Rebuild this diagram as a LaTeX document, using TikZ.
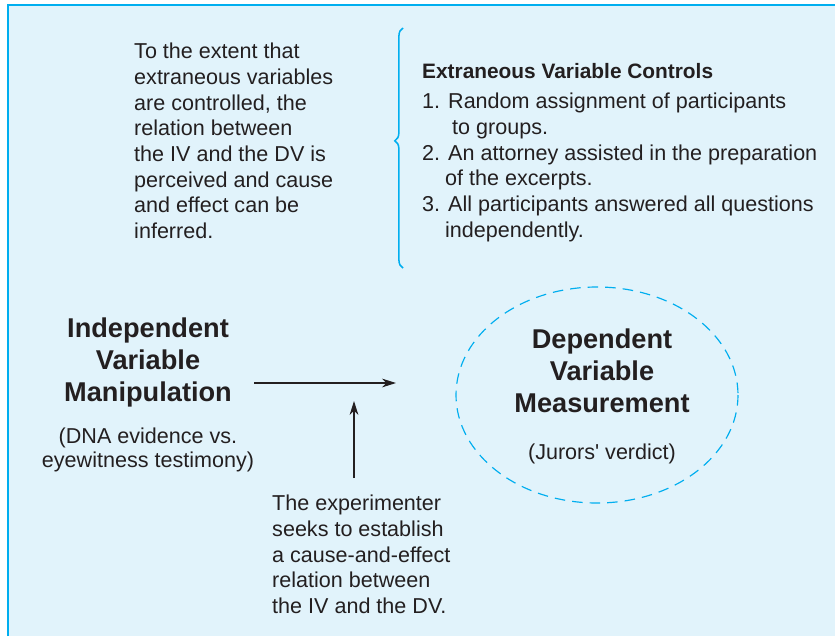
\documentclass[tikz,border=0pt]{standalone}
\usepackage{fontspec}
\setmainfont{Liberation Sans}
\usetikzlibrary{positioning, arrows.meta, decorations.pathreplacing}
\definecolor{panel}{HTML}{E1F3FB}
\definecolor{cyanline}{HTML}{00AEEF}
\definecolor{ink}{HTML}{231F20}
\tikzset{>={Stealth[length=12pt,width=7.5pt]}, % arrow heads
body/.style={font=\fontsize{18.4}{21.9}\selectfont, text=ink, inner sep=0pt, align=left},
head/.style={font=\fontsize{23.2}{27.3}\selectfont\bfseries, text=ink, inner sep=0pt, align=center},
note/.style={font=\fontsize{18.4}{20.6}\selectfont, text=ink, inner sep=0pt, align=center},
}

\begin{document}
\begin{tikzpicture}[x=0.03cm, y=-0.03cm]
  \useasboundingbox (0,0) rectangle (835,636);
  % panel
  \fill[panel] (8,5) rectangle (835,636);
  \draw[cyanline, line width=1.6pt] (8,636) -- (8,5) -- (835,5);

  % top left remark
  \node[body, anchor=north west] (remark) at (134,43) {To the extent that\\extraneous variables\\are controlled, the\\relation between\\the IV and the DV is\\perceived and cause\\and effect can be\\inferred.};

  % brace and control list
  \coordinate (btop) at (403,28);
  \coordinate (bbot) at (403,268);
  \draw[cyanline, line width=1.3pt, decorate, decoration={brace, amplitude=7pt, aspect=0.53}] (bbot) -- (btop);
  \node[body, anchor=north west, font=\fontsize{17.8}{21}\selectfont\bfseries] (ctitle) at (422,63) {Extraneous Variable Controls};
  \node[body, anchor=north west] (clist) at (422,93) {1. Random assignment of participants\\\hspace{25.6pt}to groups.\\2. An attorney assisted in the preparation\\\hspace{19.6pt}of the excerpts.\\3. All participants answered all questions\\\hspace{19.6pt}independently.};

  % independent variable
  \node[head] (iv) at (148,362) {Independent\\Variable\\Manipulation};
  \node[note, below=18pt of iv] (ivnote) {(DNA evidence vs.\\eyewitness testimony)};

  % dependent variable
  \draw[cyanline, line width=1pt, dash pattern=on 9pt off 6pt] (597,395) ellipse [x radius=141, y radius=108];
  \node[head] (dv) at (602,371) {Dependent\\Variable\\Measurement};
  \node[note, below=26pt of dv] (dvnote) {(Jurors\textquotesingle\ verdict)};

  % relation arrows
  \coordinate (hstart) at (254,383);
  \coordinate (hend) at (396,383);
  \coordinate (vstart) at (354,478);
  \coordinate (vend) at (354,401);
  \draw[->, ink, line width=0.9pt] (hstart) -- (hend);
  \draw[->, ink, line width=0.9pt] (vstart) -- (vend);

  % bottom remark
  \node[body, anchor=north west] (aim) at (272,495) {The experimenter\\seeks to establish\\a cause-and-effect\\relation between\\the IV and the DV.};
\end{tikzpicture}
\end{document}
